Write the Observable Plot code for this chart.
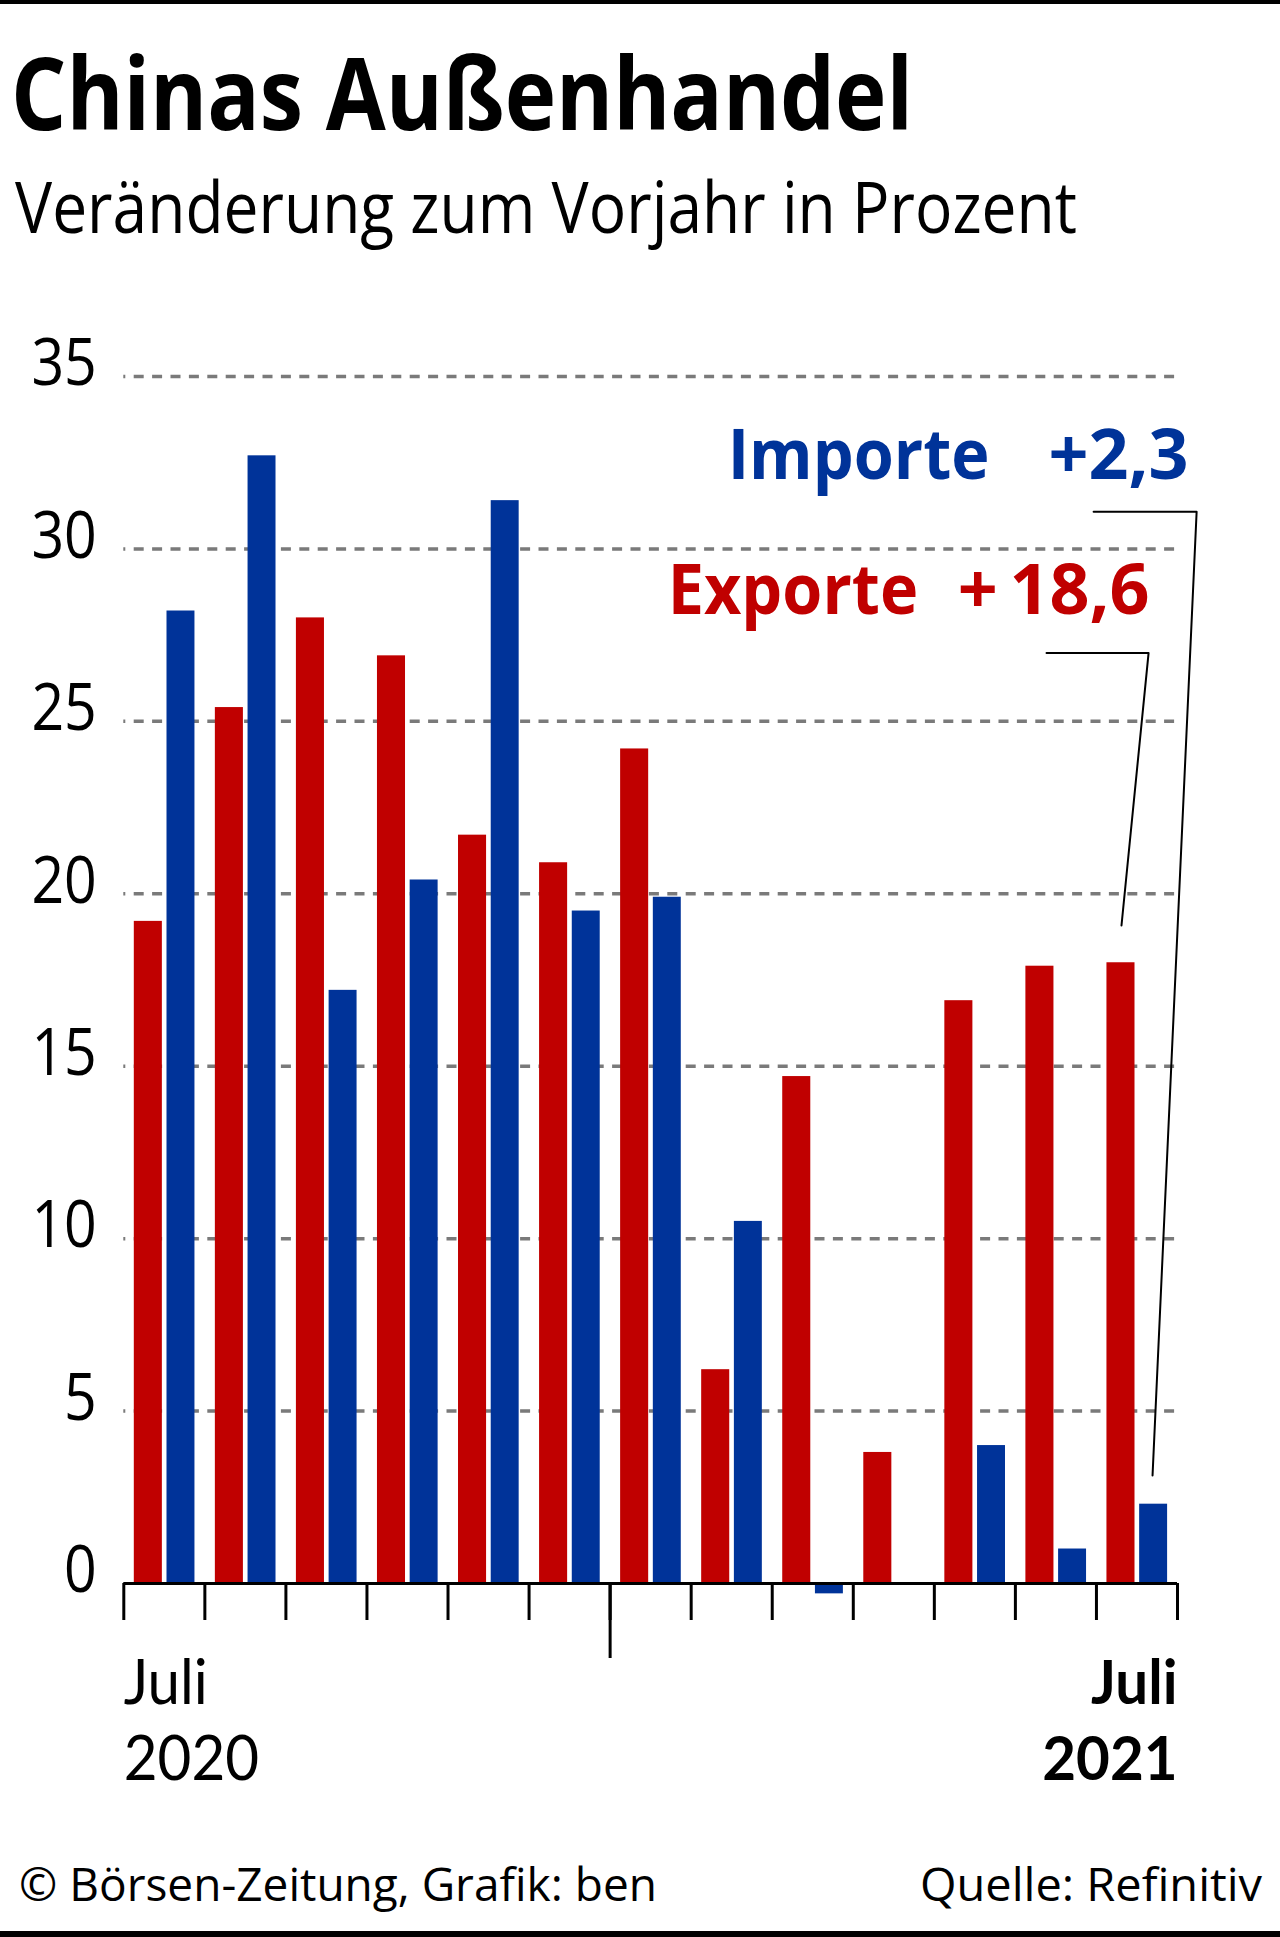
<!DOCTYPE html>
<html>
<head>
<meta charset="utf-8">
<script src="https://cdn.jsdelivr.net/npm/d3@7"></script>
<script src="https://cdn.jsdelivr.net/npm/@observablehq/plot@0.6"></script>
<style>
  html, body { margin: 0; padding: 0; background: #fff; }
  #page { position: relative; width: 1280px; height: 1937px; overflow: hidden; font-family: "Open Sans", sans-serif; color: #000; background: #fff; }
  .abs { position: absolute; white-space: nowrap; line-height: 1; }
  .fit { display: inline-block; }
  #chart { position: absolute; left: 0; top: 300px; }
</style>
</head>
<body>
<div id="page">
  <div class="abs" style="left:0;top:0;width:1280px;height:4px;background:#000"></div>
  <div class="abs" style="left:11px;top:41px;font-size:100px;font-weight:700"><span class="fit" data-w="902" data-o="left">Chinas Außenhandel</span></div>
  <div class="abs" style="left:15px;top:170px;font-size:71px;font-weight:400"><span class="fit" data-w="1062" data-o="left">Veränderung zum Vorjahr in Prozent</span></div>
  <div id="chart"></div>
  <div class="abs" style="left:19px;top:1860px;font-size:46px;font-weight:400"><span class="fit" data-w="638" data-o="left">© Börsen-Zeitung, Grafik: ben</span></div>
  <div class="abs" style="right:18px;top:1860px;font-size:46px;font-weight:400;text-align:right"><span class="fit" data-w="342" data-o="right">Quelle: Refinitiv</span></div>
  <div class="abs" style="left:0;top:1931px;width:1280px;height:6px;background:#000"></div>
</div>
<script>
// ---- data ----
const months = ["Jul 2020","Aug 2020","Sep 2020","Okt 2020","Nov 2020","Dez 2020","Jan 2021","Feb 2021","Mär 2021","Apr 2021","Mai 2021","Jun 2021","Jul 2021"];
const exporte = [19.2, 25.4, 28.0, 26.9, 21.7, 20.9, 24.2, 6.2, 14.7, 3.8, 16.9, 17.9, 18.0];
const importe = [28.2, 32.7, 17.2, 20.4, 31.4, 19.5, 19.9, 10.5, -0.3, 0, 4.0, 1.0, 2.3];
const yTicks = [0, 5, 10, 15, 20, 25, 30, 35];
const xTickLabels = [
  {pos: 0, label: "Juli\n2020", bold: false},
  {pos: 13, label: "Juli\n2021", bold: true}
];
const yearBoundary = [6]; // Jan 2021
const annWords = [
  {series: "Importe", text: "Importe", x: 7.45, y: 32.04},
  {series: "Exporte", text: "Exporte", x: 6.71, y: 28.1}
];
const annValues = [
  {series: "Importe", text: "+2,3", x: 13.136, y: 32.04},
  {series: "Exporte", text: "+\u200918,6", x: 12.655, y: 28.1}
];
const leaders = [
  {series: "Importe", x: 11.965, y: 31.08},
  {series: "Importe", x: 13.236, y: 31.08},
  {series: "Importe", x: 12.692, y: 3.13},
  {series: "Exporte", x: 11.384, y: 26.98},
  {series: "Exporte", x: 12.643, y: 26.98},
  {series: "Exporte", x: 12.309, y: 19.08}
];

const RED = "#c00000";
const BLUE = "#003399";
const colorOf = s => s === "Importe" ? BLUE : RED;

function render() {
  const expRows = months.map((m, i) => ({i, month: m, value: exporte[i]}));
  const impRows = months.map((m, i) => ({i, month: m, value: importe[i]}));

  const chart = Plot.plot({
    width: 1280,
    height: 1500,
    marginTop: 76,
    marginBottom: 217,
    marginLeft: 123.3,
    marginRight: 103,
    x: {type: "linear", domain: [0, months.length]},
    y: {domain: [0, 35]},
    style: {fontFamily: "'Open Sans', sans-serif", fontSize: "16px", background: "none", overflow: "visible", color: "#000"},
    marks: [
      Plot.ruleY(yTicks.filter(d => d > 0), {stroke: "#7a7a7a", strokeWidth: 3.5, strokeDasharray: "10 8.4", strokeDashoffset: 8}),
      Plot.rect(expRows, {x1: "i", x2: d => d.i + 1, y1: 0, y2: "value", fill: RED, insetLeft: 10.5, insetRight: 42.5}),
      Plot.rect(impRows, {x1: "i", x2: d => d.i + 1, y1: 0, y2: "value", fill: BLUE, insetLeft: 43.2, insetRight: 9.9}),
      Plot.ruleY([0], {stroke: "#000", strokeWidth: 3}),
      Plot.axisX(d3.range(months.length + 1), {tickSize: 37, strokeWidth: 3, tickFormat: () => ""}),
      Plot.axisX(yearBoundary, {tickSize: 75, strokeWidth: 3, tickFormat: () => ""}),
      Plot.axisY(yTicks, {tickSize: 0, tickPadding: 27, fontSize: 65, dy: -12}),
      Plot.text(xTickLabels.filter(d => !d.bold), {x: "pos", frameAnchor: "bottom", text: "label", textAnchor: "start", lineAnchor: "top", dy: 67, fontSize: 62, fontFamily: "Lato", lineHeight: 1.226}),
      Plot.text(xTickLabels.filter(d => d.bold), {x: "pos", frameAnchor: "bottom", text: "label", textAnchor: "end", lineAnchor: "top", dy: 67, fontSize: 62, fontFamily: "Lato", fontWeight: 700, lineHeight: 1.226}),
      Plot.line(leaders, {x: "x", y: "y", z: "series", stroke: "#000", strokeWidth: 2}),
      Plot.text(annWords, {x: "x", y: "y", text: "text", fill: d => colorOf(d.series), textAnchor: "start", lineAnchor: "bottom", fontSize: 70, fontWeight: 700}),
      Plot.text(annValues, {x: "x", y: "y", text: "text", fill: d => colorOf(d.series), textAnchor: "end", lineAnchor: "bottom", fontSize: 70, fontWeight: 700})
    ]
  });
  document.getElementById("chart").appendChild(chart);

  // condense text horizontally (the original uses a condensed typeface)
  const yTickStrings = new Set(yTicks.map(String));
  const wordStrings = new Set(annWords.map(d => d.text));
  const xLabelLines = new Set(xTickLabels.flatMap(d => d.label.split("\n")));
  const factorFor = s => {
    if (yTickStrings.has(s)) return 0.88;
    if (wordStrings.has(s)) return 0.925;
    if (xLabelLines.has(s)) return 0.94;
    return null;
  };
  chart.querySelectorAll("text, tspan").forEach(el => {
    if (el.tagName === "text" && el.querySelector("tspan")) return;
    const s = el.textContent.trim();
    const k = factorFor(s);
    if (k == null) return;
    const L = el.getComputedTextLength();
    if (L > 0) {
      el.setAttribute("textLength", (L * k).toFixed(2));
      el.setAttribute("lengthAdjust", "spacingAndGlyphs");
    }
  });

  document.querySelectorAll(".fit").forEach(s => {
    const w = s.getBoundingClientRect().width;
    const k = (+s.dataset.w) / w;
    s.style.transformOrigin = s.dataset.o + " center";
    s.style.transform = `scaleX(${k})`;
  });
}

if (document.fonts && document.fonts.ready) document.fonts.ready.then(render); else render();
</script>
</body>
</html>
